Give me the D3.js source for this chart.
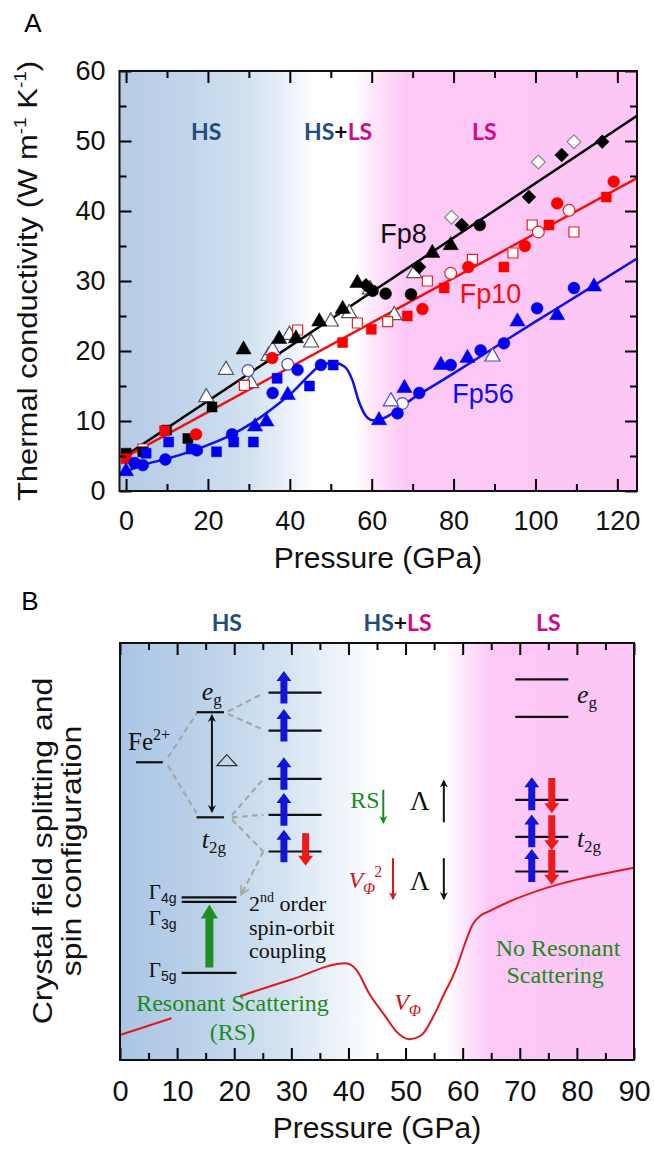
<!DOCTYPE html>
<html>
<head>
<meta charset="utf-8">
<script src="https://cdn.jsdelivr.net/npm/d3@7/dist/d3.min.js"></script>
<style>
  body { margin: 0; background: #fff; }
  svg { display: block; }
</style>
</head>
<body>
<div id="chart"></div>
<script>
// ---------- Panel A: pressure (GPa) vs thermal conductivity (W m-1 K-1)
const tickPressureA = [0, 20, 40, 60, 80, 100, 120];
const minorPressureA = [10, 30, 50, 70, 90, 110];
const tickKappa = [0, 10, 20, 30, 40, 50, 60];
const minorKappa = [5, 15, 25, 35, 45, 55];

// fitted trends
const fp8Fit = [[0, 5.1], [124.8, 53.6]];
const fp10Fit = [[0, 4.9], [124.8, 44.7]];
const fp56Fit = [[0, 2.8], [4, 3.7], [10, 4.6], [16, 5.7], [21, 6.8], [26, 8.1], [31, 9.8], [36, 11.9],
  [41, 14.3], [45, 16.7], [48, 18.1], [51, 18.3], [53.5, 17.7], [55.3, 15.8], [56.8, 12.9], [58.5, 10.8],
  [60.3, 10.1], [62, 10.2], [70, 13.2], [80, 16.8], [90, 20.5], [100, 24.2], [110, 27.8], [124.8, 33.2]];

// measured points
const fp8Square = [[0, 5.4], [4.1, 5.6], [9.9, 8.7], [15.1, 7.5], [21, 12.0]];
const fp8Triangle = [[28.7, 20.2], [37.4, 21.7], [41.5, 21.8], [47.2, 24.2], [52.9, 26.0], [56.5, 29.7], [74.8, 34.0], [79.3, 35.1]];
const fp8OpenTriangle = [[19.6, 13.4], [24.4, 17.3], [30.5, 15.4], [34.8, 19.3], [39.9, 22.3], [45.2, 21.2], [50.0, 24.2],
  [54.5, 25.4], [59.6, 28.8], [65.5, 25.1], [70.4, 31.1]];
const fp8Circle = [[60.2, 28.6], [63.4, 28.2], [69.6, 28.1], [86.4, 38.0]];
const fp8Diamond = [[58.6, 29.4], [71.6, 32.0], [82.0, 38.0], [98.4, 42.0], [106.4, 48.0], [116.3, 49.9]];
const fp8OpenDiamond = [[79.5, 39.1], [100.7, 47.0], [109.4, 49.9]];

const fp10Square = [[0, 4.6], [9.4, 8.6], [52.9, 21.2], [59.9, 23.1], [68.7, 25.0], [77.7, 29.0], [92.3, 32.0], [103.3, 38.0], [117.3, 42.0]];
const fp10Circle = [[17.1, 8.1], [35.7, 19.0], [72.4, 26.0], [83.6, 32.0], [97.4, 35.0], [105.3, 41.1], [119.1, 44.2]];
const fp10OpenSquare = [[4.1, 6.0], [28.9, 15.1], [41.9, 23.0], [56.5, 24.0], [63.9, 24.2], [73.6, 30.0], [84.6, 33.1],
  [94.5, 34.0], [99.2, 38.0], [109.4, 37.0]];
const fp10OpenCircle = [[79.3, 31.1], [100.7, 37.0], [108.2, 40.1]];

const fp56Square = [[4.9, 5.4], [10.4, 7.0], [15.9, 6.0], [22.1, 5.6], [26.3, 7.0], [31.1, 7.0], [36.9, 16.1], [44.8, 15.0], [50.6, 18.0]];
const fp56Circle = [[2.1, 4.0], [4.1, 3.7], [9.6, 4.5], [17.3, 5.8], [25.9, 8.1], [35.8, 14.0], [41.9, 17.3], [47.6, 18.0],
  [66.3, 11.1], [71.6, 14.0], [79.3, 18.0], [86.6, 20.1], [92.3, 21.1], [100.4, 26.1], [109.4, 29.0]];
const fp56Triangle = [[0, 2.8], [31.5, 9.2], [34.3, 9.9], [39.5, 13.7], [61.8, 10.1], [68.0, 14.7], [76.9, 18.0], [83.4, 19.0],
  [95.6, 24.2], [105.3, 25.1], [114.3, 29.2]];
const fp56OpenCircle = [[29.8, 17.2], [39.5, 18.1], [67.5, 12.5]];
const fp56OpenTriangle = [[35.8, 20.1], [64.7, 12.8], [89.5, 19.2]];

// ---------- Panel B: schematic vs pressure (y is arbitrary 0-100)
const tickPressureB = [0, 10, 20, 30, 40, 50, 60, 70, 80, 90];
const minorPressureB = [5, 15, 25, 35, 45, 55, 65, 75, 85];
const vPhiLeft = [[0, 6.0], [9, 10.0]];
const vPhiMain = [[21, 15.3], [30, 19.3], [39.5, 23.2], [41.4, 21.6], [43.6, 16.0], [46.5, 10.4], [48.4, 6.8],
  [50.6, 5.0], [52.8, 6.0], [55, 10.8], [56.8, 16.0], [58.1, 19.5], [59, 22.4], [60.5, 28.3], [61.8, 32.6],
  [63, 34.5], [64.5, 35.6], [90, 46.1]];
const hsLevels = [88.1, 79.0, 67.4, 58.8, 50.0];
const hsSpinDown = [50.0];
const lsEg = [91.3, 82.3];
const lsT2g = [62.4, 53.5, 45.2];
const cfLevels = [[2.8, 7.5, 71.4], [13.4, 18.2, 83.4], [13.4, 18.2, 58.2], [10.8, 20.4, 39.0], [10.8, 20.4, 37.9], [10.8, 20.4, 20.9]];
const cfDashed = [
  [[8.4, 72.6], [13.4, 83.1]], [[8.4, 70.6], [13.4, 59.2]],
  [[18.9, 83.6], [25.1, 87.9]], [[18.9, 83.0], [25.1, 79.2]],
  [[19.6, 58.7], [25.1, 67.4]], [[19.6, 58.2], [25.1, 58.8]], [[19.6, 57.7], [25.1, 50.0]]
];

// ---------- setup
const sans = '"Liberation Sans", Arial, sans-serif';
const serif = '"Liberation Serif", "Times New Roman", serif';
const hsBlue = "#1f4e79", lsPink = "#cf0a8a", green = "#1c8a1c";

const svg = d3.select("#chart").append("svg")
    .attr("width", 654).attr("height", 1149)
    .style("font-family", sans);
const defs = svg.append("defs");

const xA = d3.scaleLinear().domain([-1.6, 124.8]).range([119.5, 637]);
const yA = d3.scaleLinear().domain([0, 60]).range([491, 71]);
const xB = d3.scaleLinear().domain([0, 90]).range([120, 634]);
const yB = d3.scaleLinear().domain([0, 100]).range([1060, 643]);

function gradient(id, x, stops) {
  const [x0, x1] = x.range();
  const lg = defs.append("linearGradient").attr("id", id)
      .attr("gradientUnits", "userSpaceOnUse")
      .attr("x1", x0).attr("x2", x1).attr("y1", 0).attr("y2", 0);
  stops.forEach(([p, c]) => lg.append("stop")
      .attr("offset", (x(p) - x0) / (x1 - x0)).attr("stop-color", c));
}
gradient("bgA", xA, [[-1.6, "#b6cce6"], [15, "#c0d4ea"], [30, "#d3e2f1"], [40, "#ecf2f9"], [46, "#ffffff"],
  [56, "#ffffff"], [61, "#fde4fb"], [68, "#fcc9f6"], [125, "#fcc6f5"]]);
gradient("bgB", xB, [[0, "#aac5e4"], [15, "#bcd2ea"], [28, "#d3e2f1"], [38, "#edf3f9"], [45, "#ffffff"],
  [57, "#ffffff"], [61, "#fde2fb"], [65, "#fcc8f6"], [90, "#fcc6f5"]]);

function marker(id, color, open) {
  const m = defs.append("marker").attr("id", id)
      .attr("viewBox", "0 0 10 10").attr("refX", open ? 9 : 8).attr("refY", 5)
      .attr("markerWidth", open ? 5 : 4).attr("markerHeight", open ? 5 : 4)
      .attr("orient", "auto-start-reverse");
  if (open) m.append("path").attr("d", "M1,1L9,5L1,9").attr("fill", "none").attr("stroke", color).attr("stroke-width", 1.5);
  else m.append("path").attr("d", "M0,0L10,5L0,10L3,5Z").attr("fill", color);
}
marker("ahBlack", "#111", false);
marker("ahGreen", green, false);
marker("ahRed", "#d8161c", false);
marker("ahGray", "#a6a6a6", true);

function frameTicks(g, x, y, xMajor, xMinor, yMajor, yMinor, xFont, yFont) {
  const [x0, x1] = x.range(), [y0, y1] = y.range();
  const clean = s => { s.select(".domain").remove(); s.selectAll("line").attr("stroke-width", 2); };
  g.append("g").attr("transform", `translate(0,${y0})`)
      .call(d3.axisBottom(x).tickValues(xMajor).tickSizeInner(-12).tickSizeOuter(0).tickPadding(20))
      .call(clean)
      .call(s => s.selectAll("text").attr("font-size", xFont).attr("font-family", sans).attr("fill", "#111"));
  g.append("g").attr("transform", `translate(0,${y0})`)
      .call(d3.axisBottom(x).tickValues(xMinor).tickSizeInner(-7).tickSizeOuter(0).tickFormat("")).call(clean);
  g.append("g").attr("transform", `translate(0,${y1})`)
      .call(d3.axisTop(x).tickValues(xMajor).tickSizeInner(-12).tickSizeOuter(0).tickFormat("")).call(clean);
  g.append("g").attr("transform", `translate(0,${y1})`)
      .call(d3.axisTop(x).tickValues(xMinor).tickSizeInner(-7).tickSizeOuter(0).tickFormat("")).call(clean);
  if (yMajor) {
    g.append("g").attr("transform", `translate(${x0},0)`)
        .call(d3.axisLeft(y).tickValues(yMajor).tickSizeInner(-12).tickSizeOuter(0).tickPadding(14))
        .call(clean)
        .call(s => s.selectAll("text").attr("font-size", yFont).attr("font-family", sans).attr("fill", "#111"));
    g.append("g").attr("transform", `translate(${x0},0)`)
        .call(d3.axisLeft(y).tickValues(yMinor).tickSizeInner(-7).tickSizeOuter(0).tickFormat("")).call(clean);
    g.append("g").attr("transform", `translate(${x1},0)`)
        .call(d3.axisRight(y).tickValues(yMajor).tickSizeInner(-12).tickSizeOuter(0).tickFormat("")).call(clean);
    g.append("g").attr("transform", `translate(${x1},0)`)
        .call(d3.axisRight(y).tickValues(yMinor).tickSizeInner(-7).tickSizeOuter(0).tickFormat("")).call(clean);
  }
  g.append("rect").attr("x", x0).attr("y", y1).attr("width", x1 - x0).attr("height", y0 - y1)
      .attr("fill", "none").attr("stroke", "#111").attr("stroke-width", 2);
}

// ================= Panel A =================
const gA = svg.append("g");
gA.append("rect").attr("x", xA.range()[0]).attr("y", yA.range()[1])
    .attr("width", xA.range()[1] - xA.range()[0]).attr("height", yA.range()[0] - yA.range()[1])
    .attr("fill", "url(#bgA)");
defs.append("clipPath").attr("id", "clipA").append("rect")
    .attr("x", xA.range()[0]).attr("y", yA.range()[1])
    .attr("width", xA.range()[1] - xA.range()[0]).attr("height", yA.range()[0] - yA.range()[1]);

const plotA = gA.append("g").attr("clip-path", "url(#clipA)");
const lineA = d3.line().x(d => xA(d[0])).y(d => yA(d[1]));
[[fp8Fit, "#000", d3.curveLinear], [fp10Fit, "#f01010", d3.curveLinear], [fp56Fit, "#1010e8", d3.curveMonotoneX]]
  .forEach(([pts, c, curve]) => plotA.append("path").attr("d", lineA.curve(curve)(pts))
      .attr("fill", "none").attr("stroke", c).attr("stroke-width", 2.5));

const markerSets = [
  [fp8OpenTriangle, "triangle", "#555", true], [fp8OpenDiamond, "diamond", "#888", true],
  [fp10OpenSquare, "square", "#e82020", true], [fp10OpenCircle, "circle", "#e82020", true],
  [fp56OpenCircle, "circle", "#4a4ac8", true], [fp56OpenTriangle, "triangle", "#4a4ac8", true],
  [fp8Square, "square", "#000", false], [fp8Triangle, "triangle", "#000", false],
  [fp8Circle, "circle", "#000", false], [fp8Diamond, "diamond", "#000", false],
  [fp10Square, "square", "#f00", false], [fp10Circle, "circle", "#f00", false],
  [fp56Square, "square", "#0000f0", false], [fp56Circle, "circle", "#0000f0", false],
  [fp56Triangle, "triangle", "#0000f0", false]
];
const shapes = {
  square: d3.symbol(d3.symbolSquare, 100),
  diamond: d3.symbol(d3.symbolSquare, 95),
  circle: d3.symbol(d3.symbolCircle, 110),
  triangle: d3.symbol(d3.symbolTriangle, 100)
};
markerSets.forEach(([pts, shape, color, open]) => {
  plotA.append("g").selectAll("path").data(pts).join("path")
      .attr("d", shapes[shape])
      .attr("transform", d => `translate(${xA(d[0])},${yA(d[1])})` + (shape === "diamond" ? " rotate(45)" : ""))
      .attr("fill", open ? "#fff" : color)
      .attr("stroke", color).attr("stroke-width", open ? 1.2 : 0.5);
});

frameTicks(gA, xA, yA, tickPressureA, minorPressureA, tickKappa, minorKappa, 27, 27);

// labels panel A
svg.append("text").attr("x", 33).attr("y", 32).attr("text-anchor", "middle")
    .attr("font-size", 26).text("A");

function spinHeader() {
  return svg.append("text").attr("font-family", "Lato, sans-serif").attr("font-weight", 700)
      .attr("font-size", 23).attr("text-anchor", "middle");
}
[[xA(19.6), 140, [["HS", hsBlue]]], [xA(51.8), 140, [["HS", hsBlue], ["+", "#111"], ["LS", lsPink]]], [xA(87.5), 140, [["LS", lsPink]]],
 [xB(18.7), 631, [["HS", hsBlue]]], [xB(48.6), 631, [["HS", hsBlue], ["+", "#111"], ["LS", lsPink]]], [xB(75), 631, [["LS", lsPink]]]]
  .forEach(([x, y, parts]) => {
    const t = spinHeader().attr("x", x).attr("y", y);
    parts.forEach(([s, c]) => t.append("tspan").attr("fill", c).text(s));
  });

svg.append("text").attr("x", xA(67.8)).attr("y", 243).attr("text-anchor", "middle").attr("font-size", 27).attr("fill", "#111").text("Fp8");
svg.append("text").attr("x", xA(89)).attr("y", 303).attr("text-anchor", "middle").attr("font-size", 27).attr("fill", "#f01010").text("Fp10");
svg.append("text").attr("x", xA(87.2)).attr("y", 403).attr("text-anchor", "middle").attr("font-size", 27).attr("fill", "#1010e8").text("Fp56");

svg.append("text").attr("x", 378).attr("y", 568).attr("text-anchor", "middle").attr("font-size", 30).attr("fill", "#111")
    .text("Pressure (GPa)");
const yTitleA = svg.append("text").attr("transform", "translate(37,281) scale(0.9,1) rotate(-90)")
    .attr("text-anchor", "middle").attr("font-size", 31).attr("fill", "#111");
yTitleA.append("tspan").text("Thermal conductivity (W m");
yTitleA.append("tspan").attr("font-size", 19).attr("dy", -12).text("-1");
yTitleA.append("tspan").attr("dy", 12).text(" K");
yTitleA.append("tspan").attr("font-size", 19).attr("dy", -12).text("-1");
yTitleA.append("tspan").attr("dy", 12).text(")");

// ================= Panel B =================
const gB = svg.append("g");
gB.append("rect").attr("x", xB.range()[0]).attr("y", yB.range()[1])
    .attr("width", xB.range()[1] - xB.range()[0]).attr("height", yB.range()[0] - yB.range()[1])
    .attr("fill", "url(#bgB)");

const lineB = d3.line().x(d => xB(d[0])).y(d => yB(d[1])).curve(d3.curveMonotoneX);
[vPhiLeft, vPhiMain].forEach(pts => gB.append("path").attr("d", lineB(pts))
    .attr("fill", "none").attr("stroke", "#dc1a1e").attr("stroke-width", 2));

// crystal field levels
cfLevels.forEach(([a, b, v]) => gB.append("line")
    .attr("x1", xB(a)).attr("x2", xB(b)).attr("y1", yB(v)).attr("y2", yB(v))
    .attr("stroke", "#111").attr("stroke-width", 2.2));
cfDashed.forEach(([p, q]) => gB.append("line")
    .attr("x1", xB(p[0])).attr("y1", yB(p[1])).attr("x2", xB(q[0])).attr("y2", yB(q[1]))
    .attr("stroke", "#a6a6a6").attr("stroke-width", 2.2).attr("stroke-dasharray", "6,4"));
gB.append("line").attr("x1", xB(25.1)).attr("y1", yB(50.0)).attr("x2", xB(21.2)).attr("y2", yB(39.6))
    .attr("stroke", "#a6a6a6").attr("stroke-width", 2.2).attr("stroke-dasharray", "6,4")
    .attr("marker-end", "url(#ahGray)");

// spin levels
const spinLevels = hsLevels.map(v => [26.0, 35.3, v]).concat(lsEg.concat(lsT2g).map(v => [69.2, 78.5, v]));
spinLevels.forEach(([a, b, v]) => gB.append("line")
    .attr("x1", xB(a)).attr("x2", xB(b)).attr("y1", yB(v)).attr("y2", yB(v))
    .attr("stroke", "#111").attr("stroke-width", 2.2));

function blockArrow(x, yTail, yHead, color, shaft, headW, headL) {
  const dir = yHead < yTail ? -1 : 1;
  const yNeck = yHead - dir * headL;
  const p = [[x - shaft / 2, yTail], [x - shaft / 2, yNeck], [x - headW / 2, yNeck], [x, yHead],
    [x + headW / 2, yNeck], [x + shaft / 2, yNeck], [x + shaft / 2, yTail]];
  gB.append("path").attr("d", d3.line()(p) + "Z").attr("fill", color);
}
hsLevels.forEach(v => blockArrow(xB(28.7), yB(v - 2.6), yB(v + 5.2), "#1414d8", 7, 15, 10));
hsSpinDown.forEach(v => blockArrow(xB(32.5), yB(v + 4.4), yB(v - 3.4), "#ee1a1a", 7, 15, 10));
lsT2g.forEach(v => {
  blockArrow(xB(72.1), yB(v - 2.5), yB(v + 5.4), "#1414d8", 7, 15, 10);
  blockArrow(xB(75.6), yB(v + 5.2), yB(v - 3.2), "#ee1a1a", 7, 15, 10);
});
// RS transition
blockArrow(xB(15.65), yB(22.2), yB(37.3), "#1f8f1f", 8, 17, 14);

// thin arrows
function thinArrow(x, v0, v1, color, id) {
  gB.append("line").attr("x1", xB(x)).attr("x2", xB(x)).attr("y1", yB(v0)).attr("y2", yB(v1))
      .attr("stroke", color).attr("stroke-width", 2).attr("marker-end", `url(#${id})`);
}
thinArrow(16.1, 71.0, 82.6, "#111", "ahBlack");
thinArrow(16.1, 71.0, 59.6, "#111", "ahBlack");
thinArrow(46.1, 64.8, 57.0, green, "ahGreen");
thinArrow(56.7, 57.0, 66.9, "#111", "ahBlack");
thinArrow(47.8, 48.4, 38.7, "#d8161c", "ahRed");
thinArrow(56.7, 48.4, 38.7, "#111", "ahBlack");

// delta symbol
gB.append("path")
    .attr("d", `M${xB(18.7) - 10},${yB(71.9) + 5.5}L${xB(18.7)},${yB(71.9) - 5.5}L${xB(18.7) + 10},${yB(71.9) + 5.5}Z`)
    .attr("fill", "none").attr("stroke", "#333").attr("stroke-width", 1.3);

frameTicks(gB, xB, yB, tickPressureB, minorPressureB, null, null, 29, 29);

// text helpers for panel B
function sText(x, y, size, color, anchor) {
  return svg.append("text").attr("x", x).attr("y", y).attr("font-family", serif)
      .attr("font-size", size).attr("fill", color).attr("text-anchor", anchor || "start");
}
let t;
t = sText(xB(1.4), yB(74.3), 25, "#111"); t.append("tspan").text("Fe");
t.append("tspan").attr("font-size", 16).attr("dy", -10).text("2+");
t = sText(xB(14.3), yB(86.3), 26, "#111"); t.append("tspan").attr("font-style", "italic").text("e");
t.append("tspan").attr("font-size", 17).attr("dy", 5).text("g");
t = sText(xB(14.3), yB(50.8), 26, "#111"); t.append("tspan").attr("font-style", "italic").text("t");
t.append("tspan").attr("font-size", 17).attr("dy", 5).text("2g");
t = sText(xB(80.0), yB(85.6), 26, "#111"); t.append("tspan").attr("font-style", "italic").text("e");
t.append("tspan").attr("font-size", 17).attr("dy", 5).text("g");
t = sText(xB(80.0), yB(51.1), 26, "#111"); t.append("tspan").attr("font-style", "italic").text("t");
t.append("tspan").attr("font-size", 17).attr("dy", 5).text("2g");

[[38.6, "4g"], [32.4, "3g"], [19.9, "5g"]].forEach(([v, s]) => {
  const g = sText(xB(9.9), yB(v), 21, "#111", "end");
  g.append("tspan").text("Γ");
  g.append("tspan").attr("font-family", sans).attr("font-size", 14).attr("dy", 4).text(s);
});
t = sText(xB(22.6), yB(35.8), 22, "#111"); t.append("tspan").text("2");
t.append("tspan").attr("font-size", 14).attr("dy", -9).text("nd");
t.append("tspan").attr("dy", 9).text(" order");
sText(xB(22.6), yB(30.0), 22, "#111").text("spin-orbit");
sText(xB(22.6), yB(24.5), 22, "#111").text("coupling");

sText(xB(40.3), yB(60.4), 24, green).text("RS");
sText(xB(50.8), yB(60.0), 27, "#111").text("Λ");
t = sText(xB(40.0), yB(41.2), 24, "#d8161c");
t.append("tspan").attr("font-style", "italic").text("V");
t.append("tspan").attr("font-style", "italic").attr("font-size", 16).attr("dy", 6).text("Φ");
t.append("tspan").attr("font-size", 16).attr("dy", -17).attr("dx", -1).text("2");
sText(xB(50.8), yB(40.8), 27, "#111").text("Λ");

sText(xB(76.7), yB(24.9), 24, green, "middle").text("No Resonant");
sText(xB(76.2), yB(18.5), 24, green, "middle").text("Scattering");
sText(xB(19.7), yB(11.8), 24, green, "middle").text("Resonant Scattering");
sText(xB(19.7), yB(4.8), 24, green, "middle").text("(RS)");
t = sText(xB(48.0), yB(12.0), 24, "#cc1414");
t.append("tspan").attr("font-style", "italic").text("V");
t.append("tspan").attr("font-style", "italic").attr("font-size", 16).attr("dy", 6).text("Φ");

svg.append("text").attr("x", 30).attr("y", 610).attr("text-anchor", "middle").attr("font-size", 26).text("B");
svg.append("text").attr("x", 377).attr("y", 1138).attr("text-anchor", "middle").attr("font-size", 30).attr("fill", "#111")
    .text("Pressure (GPa)");
svg.append("text").attr("transform", "translate(52,851) scale(0.88,1) rotate(-90)").attr("text-anchor", "middle")
    .attr("font-size", 32).attr("fill", "#111").text("Crystal field splitting and");
svg.append("text").attr("transform", "translate(81,851) scale(0.88,1) rotate(-90)").attr("text-anchor", "middle")
    .attr("font-size", 32).attr("fill", "#111").text("spin configuration");
</script>
</body>
</html>
